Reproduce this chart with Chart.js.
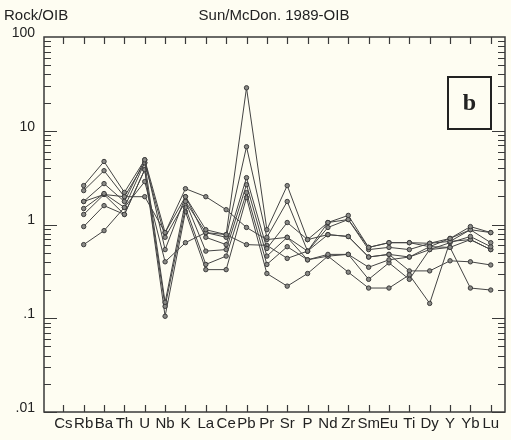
<!DOCTYPE html>
<html>
<head>
<meta charset="utf-8">
<script src="https://cdn.jsdelivr.net/npm/chart.js@4.4.1/dist/chart.umd.min.js"></script>
<style>
  html, body { margin: 0; padding: 0; background: #fefdf2; }
  #wrap { width: 511px; height: 440px; }
</style>
</head>
<body>
<div id="wrap"><canvas id="spider"></canvas></div>
<script>
// === Data ===
const elements = ['Cs', 'Rb', 'Ba', 'Th', 'U', 'Nb', 'K', 'La', 'Ce', 'Pb', 'Pr',
                  'Sr', 'P', 'Nd', 'Zr', 'Sm', 'Eu', 'Ti', 'Dy', 'Y', 'Yb', 'Lu'];
const sample1 = [null, 2.6, 4.7, 2.2, 4.9, 0.82, 1.98, 0.88, 0.78, 28.7, 0.88, 2.6, 0.69, 1.05, 1.25, 0.57, 0.64, 0.64, 0.58, 0.71, 0.95, 0.82];
const sample2 = [null, 2.3, 3.75, 1.98, 4.56, 0.73, 1.76, 0.82, 0.73, 6.75, 0.73, 1.76, 0.52, 0.93, 1.13, 0.54, 0.57, 0.54, 0.63, 0.66, 0.88, 0.64];
const sample3 = [null, 1.76, 2.73, 1.76, 4.9, 0.54, 1.98, 0.73, 0.61, 3.16, 0.555, 1.05, 0.69, 0.78, 0.745, 0.45, 0.48, 0.45, 0.54, 0.64, 0.745, 0.58];
const sample4 = [null, 1.48, 2.14, 1.52, 4.56, 0.148, 1.76, 0.52, 0.54, 2.66, 0.46, 0.73, 0.42, 0.48, 0.48, 0.35, 0.42, 0.45, 0.58, 0.57, 0.69, 0.54];
const sample5 = [null, 1.28, 2.09, 1.28, 3.85, 0.134, 1.52, 0.375, 0.46, 2.19, 0.375, 0.58, 0.42, 0.46, 0.48, 0.26, 0.39, 0.26, 0.54, 0.57, 0.21, 0.20];
const sample6 = [null, 0.95, 1.59, 1.28, 3.85, 0.105, 1.37, 0.33, 0.33, 1.94, 0.30, 0.22, 0.30, 0.46, 0.31, 0.21, 0.21, 0.29, 0.144, 0.66, 0.69, 0.54];
const sample7 = [null, 0.61, 0.86, 1.52, 2.87, 0.40, 0.64, 0.82, 0.78, 0.61, 0.60, 0.435, 0.52, 0.78, 0.745, 0.45, 0.48, 0.32, 0.32, 0.41, 0.40, 0.37];
const sample8 = [null, 1.76, 2.09, 1.98, 1.98, 0.82, 2.41, 1.98, 1.44, 0.93, 0.69, 0.73, 0.52, 1.05, 1.13, 0.57, 0.64, 0.64, 0.63, 0.71, 0.88, 0.82];
const samples = [sample1, sample2, sample3, sample4, sample5, sample6, sample7, sample8];

const yTicks = [0.01, 0.1, 1, 10, 100];
const yTickLabels = ['.01', '.1', '1', '10', '100'];
const yLabel = 'Rock/OIB';
const chartTitle = 'Sun/McDon. 1989-OIB';
const panelLetter = 'b';

const FONT = '"Liberation Sans", Arial, sans-serif';

// === Frame, inside ticks and texts ===
const framePlugin = {
    id: 'frame',
    beforeDraw(chart) {
        const c = chart.ctx;
        c.save();
        c.fillStyle = '#fefdf2';
        c.fillRect(0, 0, chart.width, chart.height);
        c.restore();
    },
    afterDatasetsDraw(chart) {
        const { ctx: c, chartArea: a, scales } = chart;
        c.save();
        c.strokeStyle = '#3a3a3a';
        c.lineWidth = 1.5;
        c.strokeRect(a.left, a.top, a.right - a.left, a.bottom - a.top);

        c.lineWidth = 1.2;
        c.beginPath();
        // category ticks, top and bottom, pointing inward
        elements.forEach((_, i) => {
            const x = Math.round(scales.x.getPixelForValue(i)) + 0.5;
            c.moveTo(x, a.top); c.lineTo(x, a.top + 7);
            c.moveTo(x, a.bottom); c.lineTo(x, a.bottom - 7);
        });
        // log ticks on both sides
        for (let d = 0; d < yTicks.length - 1; d++) {
            for (let m = 1; m <= 9; m++) {
                const y = Math.round(scales.y.getPixelForValue(yTicks[d] * m)) + 0.5;
                const len = m === 1 ? 13 : 7;
                c.moveTo(a.left, y); c.lineTo(a.left + len, y);
                c.moveTo(a.right, y); c.lineTo(a.right - len, y);
            }
        }
        c.stroke();
        c.restore();
    },
    afterDraw(chart) {
        const { ctx: c, chartArea: a } = chart;
        c.save();
        c.fillStyle = '#222';
        c.font = '15px ' + FONT;
        c.textBaseline = 'middle';
        c.textAlign = 'left';
        c.fillText(yLabel, 4, 16);
        c.textAlign = 'center';
        c.fillText(chartTitle, 274, 16);

        // panel letter box, top right of the plot
        const bw = 43, bh = 52;
        const bx = a.right - 57, by = a.top + 40;
        c.strokeStyle = '#222';
        c.lineWidth = 2;
        c.strokeRect(bx, by, bw, bh);
        c.font = 'bold 24px "Liberation Serif", "Times New Roman", serif';
        c.fillText(panelLetter, bx + bw / 2, by + bh / 2 + 1);
        c.restore();
    }
};

const datasets = samples.map(s => ({
    data: s.map((v, i) => ({ x: i, y: v })).filter(p => p.y !== null),
    borderColor: '#444',
    borderWidth: 1,
    pointRadius: 2.2,
    pointBackgroundColor: '#8a8a86',
    pointBorderColor: '#3c3c3c',
    pointBorderWidth: 1,
    tension: 0
}));

new Chart(document.getElementById('spider'), {
    type: 'line',
    data: { datasets },
    plugins: [framePlugin],
    options: {
        responsive: true,
        maintainAspectRatio: false,
        animation: false,
        layout: { padding: { top: 37, right: 6, left: 0, bottom: 0 } },
        plugins: { legend: { display: false }, tooltip: { enabled: false } },
        scales: {
            x: {
                type: 'linear',
                min: -0.95,
                max: 21.7,
                grid: { display: false, drawTicks: false },
                border: { display: false },
                afterBuildTicks: s => { s.ticks = elements.map((_, i) => ({ value: i })); },
                afterFit: s => { s.height = 28; },
                ticks: {
                    autoSkip: false,
                    maxRotation: 0,
                    padding: 3,
                    color: '#222',
                    font: { family: FONT, size: 15 },
                    callback: v => elements[v]
                }
            },
            y: {
                type: 'logarithmic',
                min: 0.01,
                max: 100,
                grid: { display: false, drawTicks: false },
                border: { display: false },
                afterBuildTicks: s => { s.ticks = yTicks.map(v => ({ value: v })); },
                afterFit: s => { s.width = 44; },
                ticks: {
                    autoSkip: false,
                    padding: 9,
                    labelOffset: -4,
                    color: '#222',
                    font: { family: FONT, size: 14 },
                    callback: v => yTickLabels[yTicks.indexOf(v)]
                }
            }
        }
    }
});
</script>
</body>
</html>
